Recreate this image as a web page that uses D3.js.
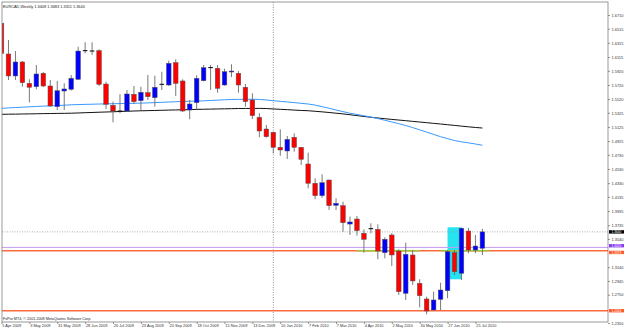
<!DOCTYPE html>
<html>
<head>
<meta charset="utf-8">
<script src="https://cdn.jsdelivr.net/npm/d3@7"></script>
<style>
  body { margin: 0; background: #fff; }
  text { font-family: "Liberation Sans", Arial, sans-serif; }
</style>
</head>
<body>
<div class="canvas"></div>
<script>
// weekly EURCAD bars, 5 Apr 2009 .. 1 Aug 2010
const opens = [1.6593,1.6158,1.5847,1.6045,1.5743,1.5695,1.5885,1.5705,1.5412,1.5634,
  1.5658,1.5800,1.6205,1.6205,1.6205,1.5733,1.5432,1.5355,1.5351,1.5588,
  1.5497,1.5610,1.5539,1.5729,1.5719,1.6035,1.5776,1.5365,1.5469,1.5780,
  1.5962,1.5956,1.5719,1.5903,1.5885,1.5687,1.5507,1.5262,1.5096,1.5050,
  1.4837,1.4785,1.4979,1.4837,1.4601,1.4328,1.4152,1.4374,1.4016,1.4011,
  1.3751,1.3822,1.3620,1.3691,1.3676,1.3345,1.3596,1.3369,1.2770,1.3313,
  1.2912,1.2690,1.2534,1.2685,1.2807,1.3345,1.3054,1.3652,1.3383,1.3408];
const highs = [1.6696,1.6356,1.6200,1.6059,1.5800,1.6002,1.5903,1.5790,1.5776,1.5743,
  1.5861,1.6261,1.6324,1.6324,1.6224,1.5766,1.5483,1.5588,1.5648,1.5705,
  1.5695,1.5861,1.5851,1.5907,1.6063,1.6083,1.5800,1.5507,1.5856,1.6002,
  1.6002,1.6002,1.5950,1.6012,1.5917,1.5733,1.5602,1.5319,1.5153,1.5060,
  1.5092,1.4997,1.5035,1.4841,1.4761,1.4398,1.4455,1.4380,1.4115,1.4067,
  1.3855,1.3865,1.3676,1.3761,1.3747,1.3563,1.3620,1.3393,1.3487,1.3383,
  1.2969,1.2722,1.2793,1.2920,1.3383,1.3383,1.3700,1.3695,1.3596,1.3683];
const lows = [1.6049,1.5790,1.5790,1.5695,1.5474,1.5658,1.5691,1.5412,1.5365,1.5365,
  1.5640,1.5790,1.6168,1.6144,1.5705,1.5379,1.5191,1.5319,1.5341,1.5450,
  1.5365,1.5507,1.5412,1.5648,1.5705,1.5563,1.5337,1.5234,1.5365,1.5770,
  1.5648,1.5610,1.5710,1.5832,1.5610,1.5412,1.5238,1.4979,1.4975,1.4752,
  1.4718,1.4672,1.4775,1.4587,1.4257,1.4101,1.4120,1.3950,1.3950,1.3642,
  1.3596,1.3586,1.3345,1.3620,1.3252,1.3266,1.3157,1.2746,1.2676,1.2888,
  1.2572,1.2473,1.2525,1.2534,1.2700,1.3029,1.2959,1.3337,1.3337,1.3311];
const closes = [1.6168,1.5847,1.6045,1.5752,1.5687,1.5875,1.5705,1.5422,1.5638,1.5663,
  1.5814,1.6200,1.6205,1.6200,1.5729,1.5446,1.5351,1.5350,1.5592,1.5483,
  1.5616,1.5554,1.5687,1.5729,1.6026,1.5743,1.5351,1.5450,1.5814,1.5964,
  1.5965,1.5672,1.5907,1.5917,1.5719,1.5483,1.5285,1.5068,1.4987,1.4837,
  1.4799,1.4950,1.4837,1.4667,1.4328,1.4152,1.4336,1.4011,1.4044,1.3770,
  1.3780,1.3657,1.3535,1.3685,1.3369,1.3535,1.3313,1.2793,1.3323,1.2945,
  1.2736,1.2520,1.2676,1.2817,1.3359,1.3076,1.3691,1.3383,1.3440,1.3640];

// moving averages, one value per bar
const maFast = [1.5389,1.5395,1.5400,1.5405,1.5410,1.5415,1.5420,1.5424,1.5428,1.5433,
  1.5439,1.5442,1.5445,1.5447,1.5450,1.5452,1.5454,1.5456,1.5458,1.5460,
  1.5463,1.5466,1.5470,1.5474,1.5478,1.5482,1.5486,1.5489,1.5492,1.5495,
  1.5500,1.5505,1.5510,1.5514,1.5516,1.5517,1.5517,1.5515,1.5507,1.5497,
  1.5488,1.5479,1.5470,1.5460,1.5450,1.5435,1.5412,1.5390,1.5365,1.5342,
  1.5319,1.5302,1.5284,1.5266,1.5244,1.5220,1.5196,1.5171,1.5146,1.5116,
  1.5084,1.5052,1.5020,1.4987,1.4960,1.4933,1.4915,1.4900,1.4884,1.4866];
const maSlow = [1.5304,1.5306,1.5307,1.5309,1.5310,1.5312,1.5314,1.5315,1.5317,1.5318,
  1.5320,1.5323,1.5327,1.5330,1.5334,1.5337,1.5340,1.5344,1.5347,1.5351,
  1.5354,1.5356,1.5359,1.5361,1.5364,1.5366,1.5369,1.5371,1.5374,1.5376,
  1.5378,1.5380,1.5382,1.5384,1.5386,1.5387,1.5388,1.5388,1.5386,1.5380,
  1.5375,1.5370,1.5364,1.5359,1.5355,1.5347,1.5339,1.5330,1.5320,1.5310,
  1.5298,1.5286,1.5274,1.5262,1.5252,1.5242,1.5232,1.5223,1.5214,1.5204,
  1.5195,1.5186,1.5176,1.5167,1.5157,1.5147,1.5137,1.5127,1.5118,1.5110];

const priceTicks = [1.6710,1.6515,1.6315,1.6115,1.5920,1.5720,1.5520,1.5325,1.5125,1.4925,
  1.4730,1.4530,1.4330,1.4135,1.3935,1.3735,1.3540,1.3340,1.3140,1.2945,1.2750,1.2550,1.2350];
const dateBars = [0,4,8,12,16,20,24,28,32,36,40,44,48,52,56,60,64,68];
const dateLabels = ['5 Apr 2009','3 May 2009','31 May 2009','28 Jun 2009','26 Jul 2009','23 Aug 2009',
  '20 Sep 2009','18 Oct 2009','15 Nov 2009','13 Dec 2009','10 Jan 2010','7 Feb 2010',
  '7 Mar 2010','4 Apr 2010','2 May 2010','30 May 2010','27 Jun 2010','25 Jul 2010'];

// objects on the chart
const yearStartBar = 39;
const bidPrice = 1.3640;
const purpleLevel = 1.3420;
const orangeLevels = [1.3373, 1.2524];
const greenSegments = [[51, 60, 1.3372], [63, 70, 1.3372]];
const boxBars = [64, 66];
const boxPrices = [1.3705, 1.2969];

const svg = d3.select('.canvas')
  .append('svg')
  .attr('width', 625)
  .attr('height', 330);

// plot frame
const frame = {left: 2, top: 2, right: 608, bottom: 322};

const x = d3.scaleLinear()
  .domain([0, 69])
  .range([1.5, 482.4]);
const y = d3.scaleLinear()
  .domain([1.2350, 1.6710])
  .range([323, 15]);

svg.append('clipPath').attr('id', 'plot')
  .append('rect')
  .attr('x', frame.left).attr('y', frame.top)
  .attr('width', frame.right - frame.left).attr('height', frame.bottom - frame.top);

const graph = svg.append('g').attr('clip-path', 'url(#plot)');

// cyan box (background object)
graph.append('rect')
  .attr('x', x(boxBars[0]))
  .attr('y', y(boxPrices[0]))
  .attr('width', x(boxBars[1]) - x(boxBars[0]))
  .attr('height', y(boxPrices[1]) - y(boxPrices[0]))
  .attr('fill', '#25e3ef');

// year separator
graph.append('line')
  .attr('x1', x(yearStartBar)).attr('x2', x(yearStartBar))
  .attr('y1', frame.top).attr('y2', frame.bottom)
  .attr('stroke', '#777').attr('stroke-width', 0.8)
  .attr('stroke-dasharray', '1,1.5');

// horizontal levels
graph.append('line')
  .attr('x1', frame.left).attr('x2', frame.right)
  .attr('y1', y(bidPrice)).attr('y2', y(bidPrice))
  .attr('stroke', '#999').attr('stroke-width', 0.8)
  .attr('stroke-dasharray', '1,1.5');

graph.append('line')
  .attr('x1', frame.left).attr('x2', frame.right)
  .attr('y1', y(purpleLevel)).attr('y2', y(purpleLevel))
  .attr('stroke', '#c49cf0').attr('stroke-width', 1);

graph.selectAll('line.orange')
  .data(orangeLevels)
  .enter().append('line')
  .attr('class', 'orange')
  .attr('x1', frame.left).attr('x2', frame.right)
  .attr('y1', d => y(d)).attr('y2', d => y(d))
  .attr('stroke', '#ff6a3d').attr('stroke-width', 1.4);

graph.selectAll('line.green')
  .data(greenSegments)
  .enter().append('line')
  .attr('class', 'green')
  .attr('x1', d => x(d[0])).attr('x2', d => x(d[1]))
  .attr('y1', d => y(d[2])).attr('y2', d => y(d[2]))
  .attr('stroke', '#9ccc3c').attr('stroke-width', 1.4);

// moving averages
const line = d3.line()
  .x((d, i) => x(i))
  .y(d => y(d));

graph.append('path')
  .attr('d', line(maSlow))
  .attr('fill', 'none')
  .attr('stroke', '#111')
  .attr('stroke-width', 1);

graph.append('path')
  .attr('d', line(maFast))
  .attr('fill', 'none')
  .attr('stroke', '#3a98ff')
  .attr('stroke-width', 1);

// candles
const bars = d3.range(opens.length);
const candles = graph.selectAll('g.candle')
  .data(bars)
  .enter().append('g')
  .attr('class', 'candle');

candles.append('line')
  .attr('x1', i => x(i)).attr('x2', i => x(i))
  .attr('y1', i => y(highs[i])).attr('y2', i => y(lows[i]))
  .attr('stroke', '#6a6a6a').attr('stroke-width', 0.9);

const bodyW = 4.6;
candles.filter(i => Math.abs(opens[i] - closes[i]) >= 0.001)
  .append('rect')
  .attr('x', i => x(i) - bodyW / 2)
  .attr('y', i => y(Math.max(opens[i], closes[i])))
  .attr('width', bodyW)
  .attr('height', i => Math.abs(y(opens[i]) - y(closes[i])))
  .attr('fill', i => closes[i] > opens[i] ? '#0000ff' : '#ff0000')
  .attr('stroke', '#555')
  .attr('stroke-width', 0.5);

candles.filter(i => Math.abs(opens[i] - closes[i]) < 0.001)
  .append('line')
  .attr('x1', i => x(i) - bodyW / 2).attr('x2', i => x(i) + bodyW / 2)
  .attr('y1', i => y(closes[i])).attr('y2', i => y(closes[i]))
  .attr('stroke', '#000').attr('stroke-width', 1);

// frame
svg.append('rect')
  .attr('x', frame.left).attr('y', frame.top)
  .attr('width', frame.right - frame.left).attr('height', frame.bottom - frame.top)
  .attr('fill', 'none').attr('stroke', '#808080').attr('stroke-width', 0.8);

// price tags on the axis; purple tag sits above its line, orange ones below
const tagData = [
  {p: bidPrice, c: '#000', off: 0},
  {p: purpleLevel, c: '#8a3ff2', off: -1.7},
  {p: orangeLevels[0], c: '#ff5a2a', off: 1.7},
  {p: orangeLevels[1], c: '#ff5a2a', off: 0}
];

// axis labels hidden under a tag are left out, as in the terminal
const shownTicks = priceTicks.filter(v =>
  tagData.every(t => Math.abs(y(v) - (y(t.p) + t.off)) > 4.5));

const yAxis = d3.axisRight(y)
  .tickValues(shownTicks)
  .tickSize(2)
  .tickPadding(1.5)
  .tickFormat(d3.format('.4f'));
const yAxisGroup = svg.append('g')
  .attr('transform', `translate(${frame.right},0)`)
  .call(yAxis);

const xAxis = d3.axisBottom(x)
  .tickValues(dateBars)
  .tickSize(2)
  .tickPadding(0.5)
  .tickFormat((d, i) => dateLabels[i]);
const xAxisGroup = svg.append('g')
  .attr('transform', `translate(0,${frame.bottom})`)
  .call(xAxis);

[yAxisGroup, xAxisGroup].forEach(g => {
  g.select('.domain').remove();
  g.selectAll('line').attr('stroke', '#555').attr('stroke-width', 0.6);
  g.selectAll('text').attr('font-size', '3.9px').attr('fill', '#333');
});
xAxisGroup.selectAll('text').attr('text-anchor', 'start').attr('dx', '0.3');

const tags = svg.selectAll('g.tag')
  .data(tagData)
  .enter().append('g')
  .attr('class', 'tag')
  .attr('transform', d => `translate(${frame.right + 1},${y(d.p) + d.off})`);
tags.append('rect')
  .attr('x', 0).attr('y', -1.7)
  .attr('width', 15).attr('height', 3.4)
  .attr('fill', d => d.c);
tags.append('text')
  .attr('x', 2.5).attr('y', 1.1)
  .attr('font-size', '3.2px')
  .attr('fill', '#fff')
  .text(d => d3.format('.4f')(d.p));

// captions
svg.append('text')
  .attr('x', 3).attr('y', 8)
  .attr('font-size', '3.9px').attr('fill', '#222')
  .text('EURCAD,Weekly  1.3408 1.3683 1.3311 1.3640');

svg.append('text')
  .attr('x', 3).attr('y', 319.5)
  .attr('font-size', '3.7px').attr('fill', '#222')
  .text('FxPro MT4, \u00a9 2001-2008 MetaQuotes Software Corp.');
</script>
</body>
</html>
